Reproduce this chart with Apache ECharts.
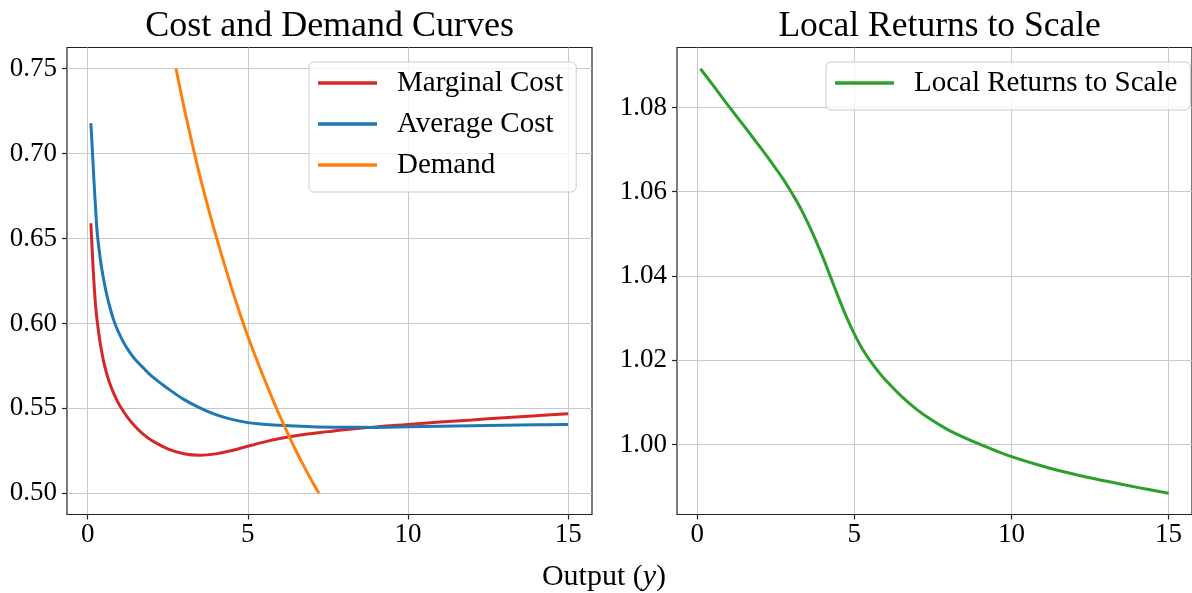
<!DOCTYPE html>
<html><head><meta charset="utf-8">
<script src="https://cdn.jsdelivr.net/npm/echarts@6/dist/echarts.min.js"></script>
<style>html,body{margin:0;padding:0;background:#fff}#c{width:1192px;height:593px}</style>
</head><body><div id="c"></div>
<script>
// ---- data ----
const mcX = [0.1, 0.15, 0.2, 0.25, 0.3, 0.4, 0.5, 0.6, 0.7, 0.8, 0.9, 1.0, 1.25, 1.5, 1.75, 2.0, 2.5, 3.0, 3.5, 4.0, 4.5, 5.0, 5.5, 6.0, 6.5, 7.0, 7.5, 8.0, 9, 10, 11, 12, 13, 14, 15];
const mcY = [0.659, 0.640, 0.623, 0.610, 0.601, 0.5875, 0.5775, 0.570, 0.5642, 0.5594, 0.5553, 0.5517, 0.5445, 0.5390, 0.5345, 0.5311, 0.5262, 0.5233, 0.5224, 0.5232, 0.5252, 0.5277, 0.5301, 0.5322, 0.5339, 0.5352, 0.5363, 0.5374, 0.5391, 0.5405, 0.5419, 0.5432, 0.5445, 0.5457, 0.5468];
const acX = [0.1, 0.15, 0.2, 0.25, 0.3, 0.4, 0.5, 0.6, 0.7, 0.8, 0.9, 1.0, 1.1, 1.2, 1.3, 1.4, 1.5, 1.75, 2.0, 2.5, 3.0, 3.5, 4.0, 4.5, 5.0, 5.5, 6.0, 6.5, 7.0, 8, 9, 10, 11, 12, 13, 14, 15];
const acY = [0.718, 0.701, 0.683, 0.667, 0.653, 0.6372, 0.6258, 0.6166, 0.6091, 0.6027, 0.5976, 0.5934, 0.5896, 0.5863, 0.5834, 0.5808, 0.5785, 0.5736, 0.5690, 0.5617, 0.5553, 0.5503, 0.5463, 0.5435, 0.5416, 0.5406, 0.5400, 0.5396, 0.5392, 0.5389, 0.5388, 0.5391, 0.5394, 0.5397, 0.5400, 0.5403, 0.5405];
const dX = [2.76, 3.0, 3.25, 3.5, 3.75, 4.0, 4.25, 4.5, 4.75, 5.0, 5.25, 5.5, 5.75, 6.0, 6.25, 6.5, 6.75, 7.0, 7.22];
const dY = [0.750, 0.728, 0.707, 0.687, 0.669, 0.652, 0.636, 0.6205, 0.606, 0.5925, 0.580, 0.568, 0.5565, 0.5455, 0.5352, 0.5252, 0.516, 0.5072, 0.500];
const rtsX = [0.1, 0.5, 1.0, 1.5, 2.0, 2.25, 2.5, 2.75, 3.0, 3.25, 3.5, 3.75, 4.0, 4.25, 4.5, 4.75, 5.0, 5.25, 5.5, 5.75, 6.0, 6.5, 7.0, 7.5, 8.0, 8.5, 9.0, 9.5, 10, 11, 12, 13, 14, 15];
const rtsY = [1.0892, 1.0853, 1.0803, 1.0755, 1.0706, 1.0681, 1.0655, 1.0628, 1.0598, 1.0566, 1.0529, 1.0488, 1.0444, 1.0396, 1.0348, 1.0302, 1.0262, 1.0227, 1.0199, 1.0174, 1.0152, 1.0114, 1.0082, 1.0056, 1.0034, 1.0016, 1.0000, 0.9985, 0.9971, 0.9948, 0.9929, 0.9913, 0.9898, 0.9884];
const xTicks = [0, 5, 10, 15];
const yTicksLeft = [0.50, 0.55, 0.60, 0.65, 0.70, 0.75];
const yTicksRight = [1.00, 1.02, 1.04, 1.06, 1.08];
const names = ['Marginal Cost', 'Average Cost', 'Demand', 'Local Returns to Scale'];
const titles = ['Cost and Demand Curves', 'Local Returns to Scale'];
const xLabelText = ['Output (', 'y', ')'];

const zip = (xs, ys) => xs.map((x, i) => [x, ys[i]]);
const FONT = 'Liberation Serif';
const C = { red: '#d62728', blue: '#1f77b4', orange: '#ff7f0e', green: '#2ca02c' };

function xAxis(gi) {
  return {
    type: 'value', gridIndex: gi, min: -0.645, max: 15.745,
    axisLine: { show: false, onZero: false },
    axisTick: { show: true, inside: false, length: 5, customValues: xTicks, lineStyle: { color: '#222', width: 1.2 } },
    axisLabel: { customValues: xTicks, margin: 7, color: '#000', fontFamily: FONT, fontSize: 27, formatter: v => String(v) },
    splitLine: { show: true, lineStyle: { color: '#c9c9c9', width: 1 } }
  };
}
function yAxis(gi, min, max, ticks) {
  return {
    type: 'value', gridIndex: gi, min: min, max: max,
    axisLine: { show: false, onZero: false },
    axisTick: { show: true, inside: false, length: 5, customValues: ticks, lineStyle: { color: '#222', width: 1.2 } },
    axisLabel: { customValues: ticks, margin: 10, color: '#000', fontFamily: FONT, fontSize: 27, formatter: v => v.toFixed(2) },
    splitLine: { show: true, lineStyle: { color: '#c9c9c9', width: 1 } }
  };
}
function line(name, data, color, xi, yi) {
  return {
    type: 'line', name: name, data: data, xAxisIndex: xi, yAxisIndex: yi,
    showSymbol: false, symbol: 'none', smooth: 0.4,
    lineStyle: { color: color, width: 3 }, itemStyle: { color: color }, animation: false
  };
}
const legendCommon = {
  orient: 'vertical', icon: 'rect', itemWidth: 59, itemHeight: 3.5, itemGap: 11,
  backgroundColor: 'rgba(255,255,255,0.8)', borderColor: '#cccccc', borderWidth: 1, borderRadius: 5,
  padding: [6, 13, 12, 9], selectedMode: false,
  textStyle: { fontFamily: FONT, fontSize: 29, color: '#000', lineHeight: 30, padding: [0, 0, 0, 15] }
};

const chart = echarts.init(document.getElementById('c'), null, { renderer: 'canvas' });
chart.setOption({
  animation: false,
  backgroundColor: '#fff',
  grid: [
    { left: 67, top: 47.5, width: 525, height: 467, show: true, borderColor: '#222', borderWidth: 1.2, backgroundColor: 'transparent', containLabel: false },
    { left: 677, top: 47.5, width: 525, height: 467, show: true, borderColor: '#222', borderWidth: 1.2, backgroundColor: 'transparent', containLabel: false }
  ],
  xAxis: [xAxis(0), xAxis(1)],
  yAxis: [yAxis(0, 0.4875, 0.7625, yTicksLeft), yAxis(1, 0.98336, 1.09424, yTicksRight)],
  legend: [
    Object.assign({}, legendCommon, { data: names.slice(0, 3), left: 309, top: 62 }),
    Object.assign({}, legendCommon, { data: [names[3]], left: 826, top: 62 })
  ],
  series: [
    line(names[0], zip(mcX, mcY), C.red, 0, 0),
    line(names[1], zip(acX, acY), C.blue, 0, 0),
    line(names[2], zip(dX, dY), C.orange, 0, 0),
    line(names[3], zip(rtsX, rtsY), C.green, 1, 1)
  ],
  graphic: [
    { type: 'text', x: 329.6, y: 27, style: { text: titles[0], fontFamily: FONT, fontSize: 36, fill: '#000', align: 'center', verticalAlign: 'middle' } },
    { type: 'text', x: 939.6, y: 27, style: { text: titles[1], fontFamily: FONT, fontSize: 35.5, fill: '#000', align: 'center', verticalAlign: 'middle' } },
    { type: 'text', x: 604, y: 577, style: {
        text: '{a|' + xLabelText[0] + '}{b|' + xLabelText[1] + '}{a|' + xLabelText[2] + '}',
        align: 'center', verticalAlign: 'middle',
        rich: {
          a: { fontFamily: FONT, fontSize: 30, fill: '#000', color: '#000' },
          b: { fontFamily: FONT, fontSize: 30, fontStyle: 'italic', fill: '#000', color: '#000' }
        } } }
  ]
});
</script>
</body></html>
